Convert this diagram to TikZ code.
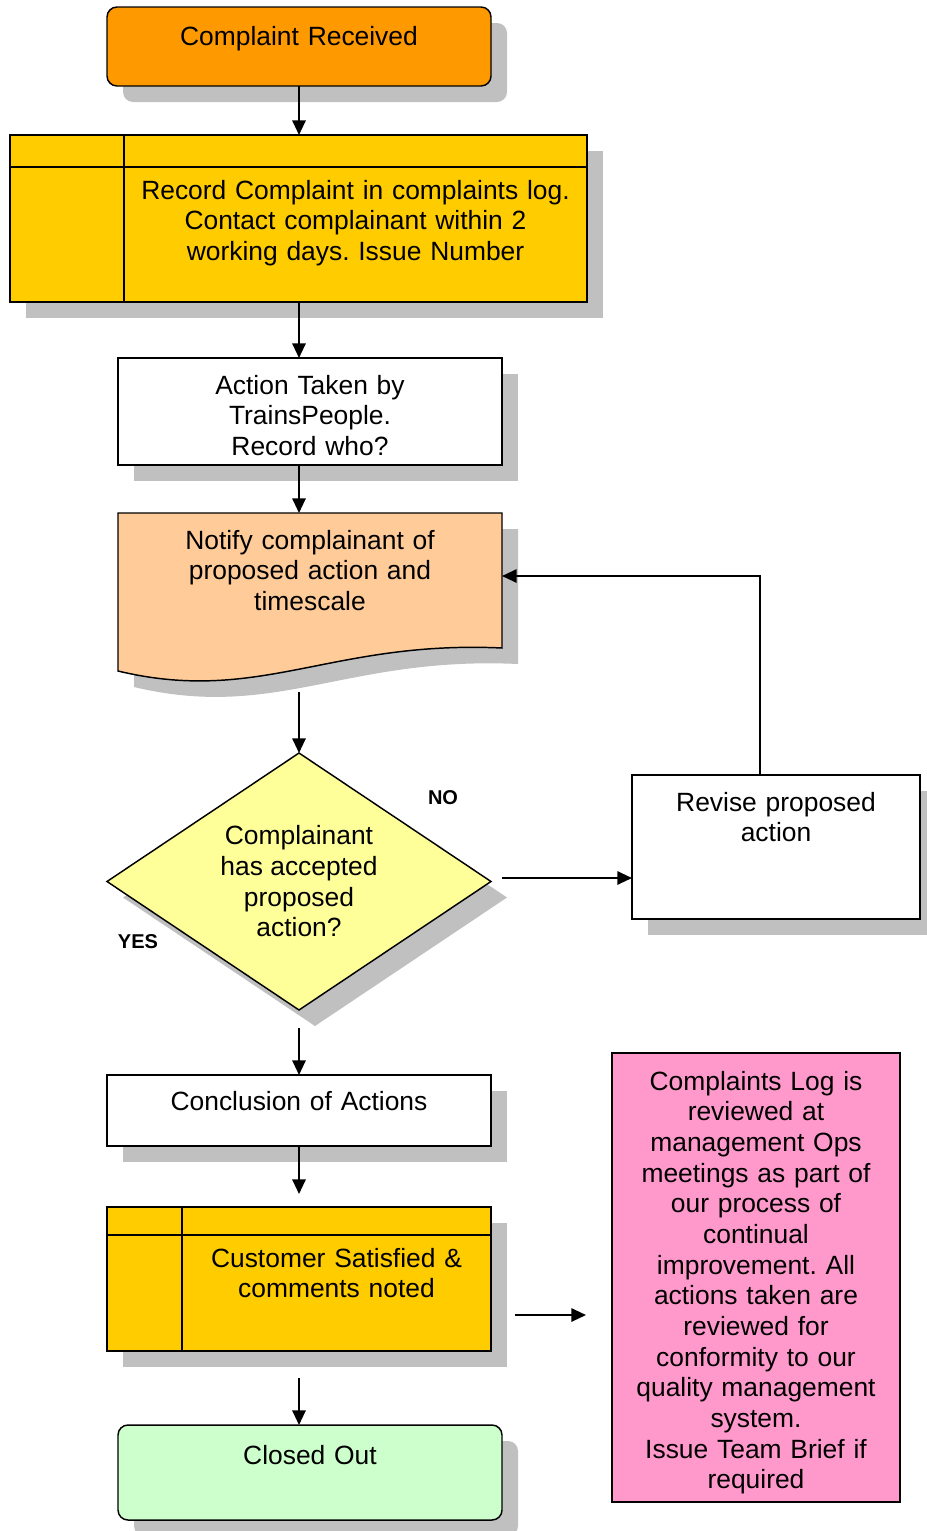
\documentclass[tikz,border=0pt]{standalone}
\usepackage{fontspec}
\setmainfont{Liberation Sans}
\usetikzlibrary{arrows.meta, positioning, shapes.geometric, shadows, calc}
\frenchspacing

\definecolor{recvorange}{HTML}{FF9900}
\definecolor{loggold}{HTML}{FFCC00}
\definecolor{notepeach}{HTML}{FFCC99}
\definecolor{askyellow}{HTML}{FFFF99}
\definecolor{reviewpink}{HTML}{FF99CC}
\definecolor{donegreen}{HTML}{CCFFCC}
\definecolor{shadowgray}{HTML}{C0C0C0}

\begin{document}
\begin{tikzpicture}[
  x=0.75pt, y=-0.75pt,
  every node/.style={font=\fontsize{19.8pt}{23pt}\selectfont, inner sep=0pt, outer sep=0pt, align=center},
  shadowed/.style={drop shadow={shadow xshift=12pt, shadow yshift=-12pt, fill=shadowgray, opacity=1}},
  plainbox/.style={draw, line width=1.1pt, fill=white, anchor=north, minimum width=288pt, text width=270pt, text height=27pt},
  box/.style={plainbox, shadowed},
  tablecol/.style={draw, line width=1.1pt, fill=loggold, shadowed, anchor=north west},
  decision/.style={diamond, aspect=1.5, draw, line width=1.1pt, fill=askyellow, shadowed, minimum width=288pt, minimum height=192.75pt},
  tag/.style={font=\fontsize{15pt}{18pt}\selectfont\bfseries},
  arrow/.style={-{Triangle[length=11pt, width=10pt]}, line width=1.5pt}
]
\useasboundingbox (0,0) rectangle (926,1531);

% start
\node[box, fill=recvorange, rounded corners=7.5pt, text height=28.5pt, text depth=30.75pt] (recv) at (299,7) {Complaint Received};

% log table
\node[tablecol, minimum width=85.5pt, minimum height=125.25pt] (recl) at (10,135) {};
\node[box, fill=loggold, minimum width=347.25pt, text width=335pt, text height=48pt, text depth=77.25pt, right=0pt of recl] (rec) {Record Complaint in complaints log.\\ Contact complainant within 2\\ working days. Issue Number};
\draw[line width=1.1pt] ($(recl.north west)+(0,32)$) -- ($(rec.north east)+(0,32)$);

% action
\node[box, text depth=53.25pt] (act) at (310,358) {Action Taken by\\ TrainsPeople.\\ Record who?};

% notify (document shape)
\path[draw, line width=1.1pt, fill=notepeach, shadowed] (118,513) -- (502,513) -- (502,648) .. controls (330,640) and (260,705) .. (118,671) -- cycle;
\node[anchor=north, minimum width=288pt, text width=270pt, text height=27pt, text depth=74.25pt] (ntf) at (310,513) {Notify complainant of\\ proposed action and\\ timescale};

% decision
\node[decision] (dec) at (299,881.5) {Complainant\\ has accepted\\ proposed\\ action?};
\node[tag] (no) at (443,798) {NO};
\node[tag] (yes) at (138,942) {YES};

% revise
\node[box, minimum width=216pt, text width=200pt, text depth=81pt] (rev) at (776,775) {Revise proposed\\ action};

% conclusion
\node[box, text height=26.25pt, text depth=27pt] (concl) at (299,1075) {Conclusion of Actions};

% customer table
\node[tablecol, minimum width=56.25pt, minimum height=108pt] (custl) at (107,1207) {};
\node[box, fill=loggold, minimum width=231.75pt, text width=220pt, text height=45pt, text depth=63pt, right=0pt of custl] (cust) {Customer Satisfied \&\\ comments noted};
\draw[line width=1.1pt] ($(custl.north west)+(0,28)$) -- ($(cust.north east)+(0,28)$);

% review note
\node[plainbox, fill=reviewpink, minimum width=216pt, text width=205pt, text height=27.75pt, text depth=309pt] (note) at (756,1053) {Complaints Log is\\ reviewed at\\ management Ops\\ meetings as part of\\ our process of\\ continual\\ improvement. All\\ actions taken are\\ reviewed for\\ conformity to our\\ quality management\\ system.\\ Issue Team Brief if\\ required};

% end
\node[box, fill=donegreen, rounded corners=7.5pt, text height=29.25pt, text depth=42pt] (closed) at (310,1425) {Closed Out};

% connectors
\draw[arrow] (recv.south) -- (rec.north -| recv.south);
\draw[arrow] (rec.south -| recv.south) -- (act.north -| recv.south);
\draw[arrow] (act.south -| recv.south) -- (ntf.north -| recv.south);
\draw[arrow] ($(ntf.south -| dec.north)+(0,44)$) -- (dec.north);
\draw[arrow] ($(dec.east)+(11,-3.5)$) -- ($(dec.east -| rev.west)+(0,-3.5)$);
\coordinate (bend) at (760,576);
\draw[arrow] (bend |- rev.north) -- (bend) -- (bend -| ntf.east);
\draw[arrow] ($(dec.south)+(0,18)$) -- (concl.north);
\draw[arrow] (concl.south) -- ($(concl.south |- cust.north)+(0,-13)$);
\draw[arrow] ($(cust.east)+(24,36)$) -- ($(cust.east -| note.west)+(-26,36)$);
\draw[arrow] ($(cust.south -| recv.south)+(0,27)$) -- (closed.north -| recv.south);

\end{tikzpicture}
\end{document}
